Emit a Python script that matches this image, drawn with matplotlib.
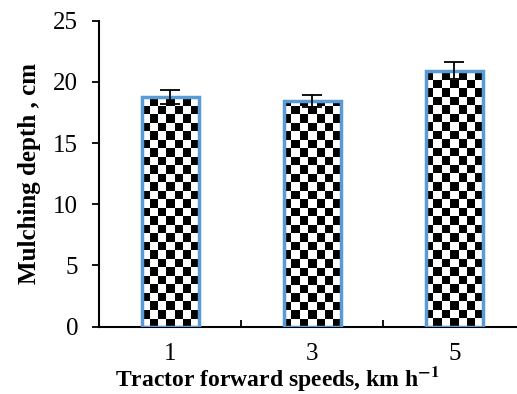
import numpy as np
import matplotlib.pyplot as plt

plt.rcParams['font.family'] = ['Liberation Serif', 'DejaVu Serif']
plt.rcParams['mathtext.fontset'] = 'stix'

speeds = ['1', '3', '5']
depth = [18.77, 18.46, 20.92]
depth_err = [0.57, 0.5, 0.7]

fig = plt.figure(figsize=(5.17, 3.94), dpi=100)
ax = fig.add_axes([0.1915, 0.171, 0.8085, 0.7765])

x = np.arange(len(speeds))
bars = ax.bar(x, depth, width=0.4, facecolor='none', edgecolor='#5B9BD5',
              linewidth=2.5, zorder=3)

# checkerboard fill, clipped to each bar
xlim = (-0.5, 2.44)
ylim = (0, 25)
nx, ny = 50, 36
checker = (np.add.outer(np.arange(ny), np.arange(nx)) % 2).astype(float)
for b in bars:
    im = ax.imshow(checker, cmap='gray', extent=(*xlim, *ylim), origin='lower',
                   interpolation='nearest', aspect='auto', zorder=2)
    im.set_clip_path(b)

ax.errorbar(x, depth, yerr=depth_err, fmt='none', ecolor='black',
            elinewidth=1.3, capsize=7, capthick=1.3, zorder=4)

ax.set_xlim(*xlim)
ax.set_ylim(*ylim)
ax.set_yticks([0, 5, 10, 15, 20, 25])
ax.set_xticks(x)
ax.set_xticklabels(speeds)
ax.set_xticks([0.5, 1.5], minor=True)
ax.tick_params(axis='x', which='major', length=0, labelsize=18, pad=12)
ax.tick_params(axis='x', which='minor', direction='in', length=5, width=1.3)
ax.tick_params(axis='y', direction='out', length=5, width=1.3, labelsize=18, pad=10)

for s in ['top', 'right']:
    ax.spines[s].set_visible(False)
for s in ['left', 'bottom']:
    ax.spines[s].set_linewidth(1.5)

ax.set_ylabel('Mulching depth , cm', fontsize=18, fontweight='bold', labelpad=9)
ax.set_xlabel(r'Tractor forward speeds, km h$^{\mathbf{-1}}$', fontsize=17,
              fontweight='bold')
ax.xaxis.label.set_va('bottom')
ax.xaxis.set_label_coords(0.426, -0.217)

fig.savefig('out.png', dpi=100)
